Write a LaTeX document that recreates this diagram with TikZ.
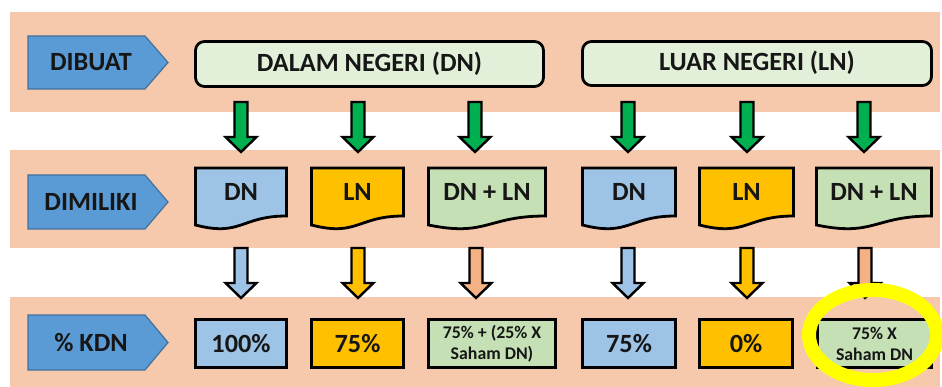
\documentclass[tikz,border=0pt]{standalone}
\usepackage{fontspec}
\setmainfont{Carlito}
\definecolor{bandc}{HTML}{F7C9AC}
\definecolor{labc}{HTML}{5B9BD5}
\definecolor{labd}{HTML}{41719C}
\definecolor{hdrc}{HTML}{E2F0D9}
\definecolor{dnc}{HTML}{9DC3E6}
\definecolor{lnc}{HTML}{FFC000}
\definecolor{mixc}{HTML}{C5E0B4}
\definecolor{garr}{HTML}{00B050}
\definecolor{sarr}{HTML}{F4B183}
\definecolor{txt}{HTML}{161616}
\definecolor{ylw}{HTML}{FFFF00}
\newcommand\docshape[5]{%
  \path[docst, fill=#3] (#1,168) -- (#2,168) -- (#2,216)
    .. controls ({(#1+#2)/2},216) and ({(#1+#2)/2},237) .. (#1,225) -- cycle;
  \node[big] (#4) at ({(#1+#2)/2},192) {#5};}
\newcommand\labarrow[4]{%
  \path[lab] (28,#1) -- (145,#1) -- (168,{(#1+#2)/2}) -- (145,#2) -- (28,#2) -- cycle;
  \node[big] (#3) at (91,{(#1+#2)/2}) {#4};}
\begin{document}
\begin{tikzpicture}[x=1pt,y=-1pt,
  lab/.style={fill=labc, draw=labd, line width=1.2pt},
  big/.style={font=\fontsize{26.3}{31}\selectfont\bfseries, text=txt, inner sep=0pt},
  small/.style={font=\fontsize{17.8}{21}\selectfont\bfseries, text=txt, align=center, inner sep=0pt},
  hdr/.style={draw=black, line width=2.8pt, rounded corners=9pt, fill=hdrc},
  docst/.style={draw=black, line width=2.8pt, line join=miter},
  boxst/.style={draw=black, line width=2.8pt},
  barr/.style={draw=black, line width=2.4pt, line join=miter},
  pics/darrow/.style={code={%
    \path[barr, fill=#1] (-6.5,0) -- (6.5,0) -- (6.5,35) -- (15.5,35) -- (0,50)
      -- (-15.5,35) -- (-6.5,35) -- cycle;}}
]
\useasboundingbox (0,0) rectangle (942,387);
\clip (0,0) rectangle (942,387);
\fill[white] (0,0) rectangle (942,387);
% bands
\fill[bandc] (10,12) rectangle (940,112);
\fill[bandc] (10,150) rectangle (940,248);
\fill[bandc] (10,297) rectangle (940,387);
% label chevrons
\labarrow{36}{89}{dibuat}{DIBUAT}
\labarrow{175}{229}{dimiliki}{DIMILIKI}
\labarrow{315}{370}{kdn}{\% KDN}
% header boxes
\path[hdr] (195.5,41.5) rectangle (543.5,86.5);
\node[big] (dalam) at (369.5,64) {DALAM NEGERI (DN)};
\path[hdr] (582.5,41.5) rectangle (931.5,85.5);
\node[big] (luar) at (757,63) {LUAR NEGERI (LN)};
% green arrows
\foreach \x in {241,358,475,628,747,864} \pic at (\x,102) {darrow=garr};
% document shapes
\docshape{195.5}{286.5}{dnc}{d1}{DN}
\docshape{311.5}{403.5}{lnc}{d2}{LN}
\docshape{428.5}{545.5}{mixc}{d3}{DN + LN}
\docshape{582.5}{675.5}{dnc}{d4}{DN}
\docshape{699.5}{793.5}{lnc}{d5}{LN}
\docshape{816.5}{931.5}{mixc}{d6}{DN + LN}
% second-row arrows
\pic at (241,248) {darrow=dnc};
\pic at (358,248) {darrow=lnc};
\pic at (476,248) {darrow=sarr};
\pic at (628,248) {darrow=dnc};
\pic at (747,248) {darrow=lnc};
\pic at (865,248) {darrow=sarr};
% result boxes
\path[boxst, fill=dnc] (195.5,319.5) rectangle (286.5,367.5);
\node[big] (r1) at (241,344) {100\%};
\path[boxst, fill=lnc] (311.5,319.5) rectangle (403.5,367.5);
\node[big] (r2) at (357.5,344) {75\%};
\path[boxst, fill=mixc] (428.5,319.5) rectangle (555.5,367.5);
\node[small] (r3) at (492,344) {75\% + (25\% X\\Saham DN)};
\path[boxst, fill=dnc] (582.5,319.5) rectangle (675.5,367.5);
\node[big] (r4) at (629,344) {75\%};
\path[boxst, fill=lnc] (699.5,319.5) rectangle (792.5,367.5);
\node[big] (r5) at (746,344) {0\%};
\path[boxst, fill=mixc] (817.5,319.5) rectangle (931.5,367.5);
\node[small] (r6) at (874.5,344) {75\% X\\Saham DN};
% highlight ellipse
\draw[ylw, line width=14pt] (873,335) ellipse [x radius=64, y radius=45];
\end{tikzpicture}
\end{document}
